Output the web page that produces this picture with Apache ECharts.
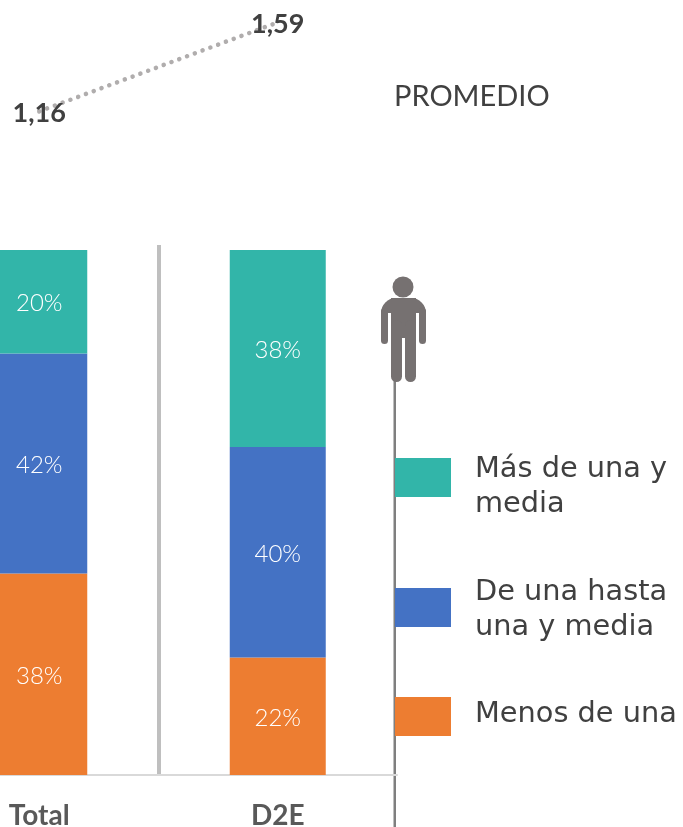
<!DOCTYPE html>
<html>
<head>
<meta charset="utf-8">
<title>Promedio</title>
<style>
  html, body { margin: 0; padding: 0; background: #fff; }
  #chart { width: 683px; height: 827px; }
</style>
</head>
<body>
<div id="chart"></div>
<script src="https://cdn.jsdelivr.net/npm/echarts@6/dist/echarts.min.js"></script>
<script>
const categories = ['Total', 'D2E'];
const menosDeUna = [38.4, 22.4];
const deUnaHasta = [41.9, 40.1];
const masDeUna = [19.7, 37.5];
const promedio = [1.16, 1.59];

const nameMenos = 'Menos de una';
const nameHasta = 'De una hasta\nuna y media';
const nameMas = 'Más de una y\nmedia';

const FONT = 'Lato';
const LEGEND_FONT = 'DejaVu Sans';
const PERSON = '#767171';

function barSeries(name, data, color) {
  return {
    name: name,
    type: 'bar',
    stack: 'total',
    data: data,
    barWidth: 96,
    itemStyle: { color: color },
    label: {
      show: true,
      position: 'inside',
      offset: [0, 2],
      color: '#fff',
      fontFamily: FONT,
      fontWeight: 300,
      fontSize: 24,
      formatter: function (p) { return Math.round(p.value) + '%'; }
    }
  };
}

// one legend per entry, the gaps between them are not even.
// gapTop / gapBottom push the text off the middle of the swatch
function legendAt(top, name, gapTop, gapBottom) {
  return {
    left: 395,
    top: top,
    orient: 'vertical',
    data: [name],
    icon: 'rect',
    itemWidth: 56,
    itemHeight: 39,
    itemGap: 0,
    padding: 0,
    selectedMode: false,
    formatter: function (n) {
      let lines = n.split('\n').map(function (s) { return '{t|' + s + '}'; });
      if (gapTop) lines.unshift('{top| }');
      if (gapBottom) lines.push('{bottom| }');
      return lines.join('\n');
    },
    textStyle: {
      padding: [0, 0, 0, 19],
      rich: {
        t: { fontFamily: LEGEND_FONT, fontSize: 28.8, lineHeight: 35, color: '#404040' },
        top: { fontSize: 1, lineHeight: gapTop, height: gapTop },
        bottom: { fontSize: 1, lineHeight: gapBottom, height: gapBottom }
      }
    }
  };
}

// the little man above the vertical line
function personPart(x, y, width, height, r) {
  return { type: 'rect', shape: { x: x, y: y, width: width, height: height, r: r }, style: { fill: PERSON } };
}

const chart = echarts.init(document.getElementById('chart'));
chart.setOption({
  animation: false,
  textStyle: { fontFamily: FONT },
  grid: [
    { left: -80, width: 477, top: 250, height: 525, outerBoundsMode: 'none' },
    { left: -80, width: 477, top: 20.3, height: 124.2, outerBoundsMode: 'none' }
  ],
  xAxis: [
    {
      type: 'category',
      gridIndex: 0,
      data: categories,
      axisTick: { show: false },
      axisLine: { lineStyle: { color: '#d9d9d9', width: 2 } },
      axisLabel: {
        color: '#595959',
        fontFamily: FONT,
        fontSize: 28,
        fontWeight: 'bold',
        margin: 27
      }
    },
    { type: 'category', gridIndex: 1, data: categories, show: false }
  ],
  yAxis: [
    { type: 'value', gridIndex: 0, min: 0, max: 100, show: false },
    { type: 'value', gridIndex: 1, min: 1, max: 1.6, show: false }
  ],
  legend: [
    legendAt(432.5, nameMas, 20, 0),
    legendAt(570, nameHasta, 5, 0),
    legendAt(697, nameMenos, 0, 3)
  ],
  series: [
    barSeries(nameMenos, menosDeUna, '#ed7d31'),
    barSeries(nameHasta, deUnaHasta, '#4472c4'),
    barSeries(nameMas, masDeUna, '#32b5a9'),
    {
      name: 'Promedio',
      type: 'line',
      xAxisIndex: 1,
      yAxisIndex: 1,
      data: promedio,
      symbol: 'circle',
      symbolSize: 0,
      lineStyle: { color: '#b0adad', width: 4.5, type: [0.1, 8.2], cap: 'round' },
      label: {
        show: true,
        position: 'inside',
        offset: [0, 2],
        color: '#404040',
        fontFamily: FONT,
        fontSize: 27,
        fontWeight: 'bold',
        formatter: function (p) { return String(p.value).replace('.', ','); }
      }
    }
  ],
  graphic: [
    { type: 'rect', shape: { x: 157, y: 245, width: 4, height: 530 }, style: { fill: '#bfbfbf' } },
    { type: 'rect', shape: { x: 393.5, y: 380, width: 2.5, height: 447 }, style: { fill: '#7f7f7f' } },
    { type: 'circle', shape: { cx: 403, cy: 287, r: 10.5 }, style: { fill: PERSON } },
    personPart(381, 298, 45, 15, [15, 15, 0, 0]),
    personPart(381, 308, 7, 36, 3.5),
    personPart(419, 308, 7, 36, 3.5),
    personPart(391, 298, 25, 40, 0),
    personPart(391, 320, 11, 62, 5.5),
    personPart(405, 320, 11, 62, 5.5),
    {
      type: 'text',
      left: 394,
      top: 82,
      style: { text: 'PROMEDIO', fontFamily: FONT, fontSize: 29, fill: '#404040' }
    }
  ]
});
</script>
</body>
</html>
